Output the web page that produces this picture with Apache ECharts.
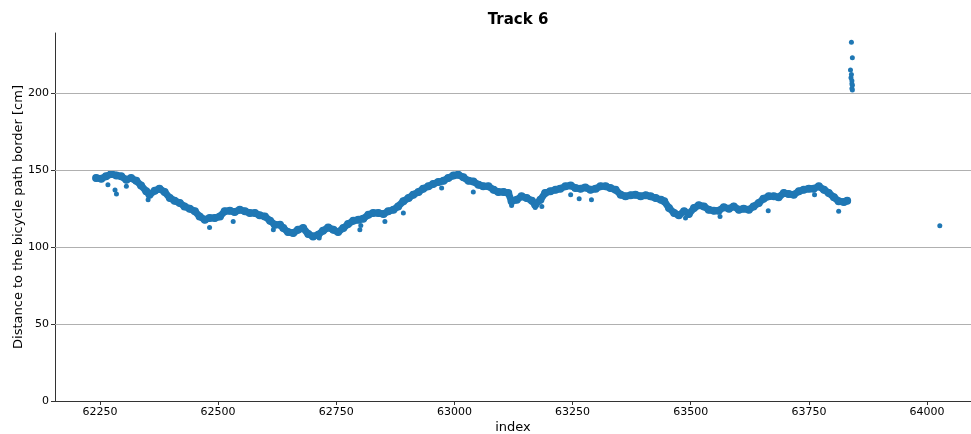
<!DOCTYPE html>
<html>
<head>
    <meta charset="utf-8">
    <title>Track 6</title>
    <script src="https://cdn.jsdelivr.net/npm/echarts@6/dist/echarts.min.js"></script>
</head>
<body style="margin:0">
    <div id="main" style="width: 971px;height:434px;"></div>
    <script type="text/javascript">
        var trackIndex = [62242, 62253, 62263, 62274, 62285, 62295, 62306, 62316, 62327, 62337, 62348, 62355, 62366, 62376, 62387, 62398, 62408, 62419, 62429, 62440,
            62451, 62461, 62472, 62482, 62493, 62504, 62514, 62525, 62535, 62546, 62557, 62567, 62578, 62588, 62599, 62610, 62620, 62631, 62638, 62648,
            62659, 62669, 62680, 62691, 62701, 62712, 62722, 62733, 62744, 62754, 62765, 62775, 62786, 62797, 62807, 62818, 62828, 62839, 62850, 62860,
            62871, 62881, 62892, 62903, 62913, 62924, 62934, 62945, 62955, 62966, 62977, 62987, 62998, 63008, 63019, 63030, 63040, 63051, 63061, 63072,
            63083, 63093, 63104, 63114, 63121, 63132, 63142, 63153, 63164, 63171, 63182, 63192, 63203, 63214, 63224, 63235, 63246, 63256, 63267, 63277,
            63288, 63299, 63309, 63320, 63330, 63341, 63352, 63362, 63373, 63383, 63394, 63405, 63415, 63426, 63437, 63444, 63454, 63465, 63475, 63486,
            63496, 63507, 63517, 63528, 63538, 63549, 63559, 63570, 63581, 63591, 63602, 63612, 63623, 63633, 63644, 63654, 63665, 63676, 63686, 63697,
            63707, 63718, 63729, 63739, 63750, 63760, 63771, 63782, 63792, 63803, 63813, 63824, 63831];
        var trackDist = [144.8, 144.4, 145.9, 147.4, 146.5, 145.9, 143.7, 144.8, 143.0, 140.0, 136.2, 134.0, 136.6, 137.9, 135.7, 131.8, 130.1, 128.6, 126.4, 124.9,
            123.2, 119.9, 117.7, 118.8, 118.8, 119.9, 123.2, 123.6, 122.7, 124.2, 123.2, 122.1, 122.1, 120.6, 119.9, 117.1, 114.5, 114.5, 112.3, 109.7,
            109.1, 111.2, 112.3, 108.4, 106.9, 108.0, 110.6, 112.7, 111.2, 109.7, 112.3, 114.9, 117.1, 117.7, 118.4, 121.0, 122.1, 122.1, 121.4, 123.2,
            124.2, 126.4, 129.7, 131.8, 134.0, 135.7, 137.9, 139.4, 140.9, 142.2, 143.0, 144.8, 146.5, 147.0, 145.3, 143.0, 142.6, 140.5, 139.4, 139.4,
            137.2, 135.7, 135.7, 135.1, 129.7, 130.7, 132.9, 131.8, 130.1, 127.5, 130.7, 135.1, 136.2, 137.2, 137.9, 139.4, 140.0, 138.3, 137.9, 138.7,
            137.2, 137.9, 139.4, 139.4, 138.3, 137.2, 134.0, 132.9, 133.6, 134.0, 132.9, 133.6, 132.9, 131.8, 130.7, 129.7, 125.3, 122.1, 120.6, 123.2,
            121.4, 125.3, 127.1, 126.4, 124.2, 123.6, 123.6, 125.8, 124.9, 126.4, 124.2, 124.9, 124.2, 126.4, 128.6, 131.4, 132.9, 132.9, 132.3, 135.1,
            134.4, 134.0, 136.2, 137.2, 137.9, 137.9, 139.4, 137.2, 135.1, 132.3, 129.7, 129.2, 130.1];

        // scattered single readings away from the band
        var strayIndex = [62267, 62282, 62285, 62306, 62352, 62482, 62532, 62617, 62714, 62800, 62802, 62853, 62892, 62973, 63040, 63121, 63171, 63185, 63246, 63264,
            63290, 63489, 63562, 63664, 63762, 63813, 63838, 63839, 63840, 63840, 63841, 63841, 63842, 63842, 63841, 63842, 64027];
        var strayDist = [140.5, 137.0, 134.4, 139.4, 130.7, 112.7, 116.6, 111.2, 105.9, 111.2, 114.0, 116.6, 122.1, 138.3, 135.7, 127.0, 125.7, 126.4, 134.0, 131.4,
            130.7, 118.8, 119.9, 123.6, 134.0, 123.2, 215.0, 210.0, 233.0, 212.0, 208.0, 206.0, 223.0, 205.0, 203.0, 202.0, 113.8];

        var xTicks = [62250, 62500, 62750, 63000, 63250, 63500, 63750, 64000];
        var yTicks = [0, 50, 100, 150, 200];

        var band = trackIndex.map(function (x, i) { return [x, trackDist[i]]; });
        var stray = strayIndex.map(function (x, i) { return [x, strayDist[i]]; });

        var myChart = echarts.init(document.getElementById('main'));
        var font = 'DejaVu Sans';
        myChart.setOption({
            animation: false,
            title: {
                text: 'Track 6',
                left: 513,
                top: 8,
                textAlign: 'center',
                textStyle: { fontFamily: font, fontSize: 15, fontWeight: 'bold', color: '#000' }
            },
            grid: { left: 55, right: 0, top: 33, bottom: 33, outerBoundsMode: 'none' },
            xAxis: {
                type: 'value',
                min: 62155,
                max: 64093,
                name: 'index',
                nameLocation: 'middle',
                nameGap: 20,
                nameMoveOverlap: false,
                nameTextStyle: { fontFamily: font, fontSize: 13, color: '#000' },
                axisLine: { lineStyle: { color: '#333', width: 1 } },
                axisTick: { show: true, length: 4, customValues: xTicks, lineStyle: { color: '#333' } },
                axisLabel: {
                    customValues: xTicks, fontFamily: font, fontSize: 11, color: '#000', margin: 6,
                    formatter: function (v) { return String(v); }
                },
                splitLine: { show: false }
            },
            yAxis: {
                type: 'value',
                min: 0,
                max: 239,
                name: 'Distance to the bicycle path border [cm]',
                nameLocation: 'middle',
                nameGap: 30,
                nameMoveOverlap: false,
                nameTextStyle: { fontFamily: font, fontSize: 13, color: '#000' },
                axisLine: { show: true, lineStyle: { color: '#333', width: 1 } },
                axisTick: { show: true, length: 4, customValues: yTicks, lineStyle: { color: '#333' } },
                axisLabel: { customValues: yTicks, fontFamily: font, fontSize: 11, color: '#000', margin: 6 },
                splitLine: { show: false }
            },
            series: [
                {
                    // horizontal grid lines at the y ticks
                    type: 'line',
                    silent: true,
                    data: [],
                    markLine: {
                        symbol: 'none',
                        silent: true,
                        label: { show: false },
                        lineStyle: { color: '#b0b0b0', width: 1, type: 'solid' },
                        data: yTicks.slice(1).map(function (v) { return { yAxis: v }; })
                    }
                },
                {
                    name: 'band-line',
                    type: 'line',
                    showSymbol: false,
                    lineStyle: { color: '#1f77b4', width: 7, cap: 'round', join: 'round' },
                    data: band
                },
                {
                    name: 'band',
                    type: 'scatter',
                    symbolSize: 8,
                    itemStyle: { color: '#1f77b4', opacity: 1 },
                    data: band
                },
                {
                    name: 'stray',
                    type: 'scatter',
                    symbolSize: 5,
                    itemStyle: { color: '#1f77b4', opacity: 1 },
                    data: stray
                }
            ]
        });
    </script>
</body>
</html>
